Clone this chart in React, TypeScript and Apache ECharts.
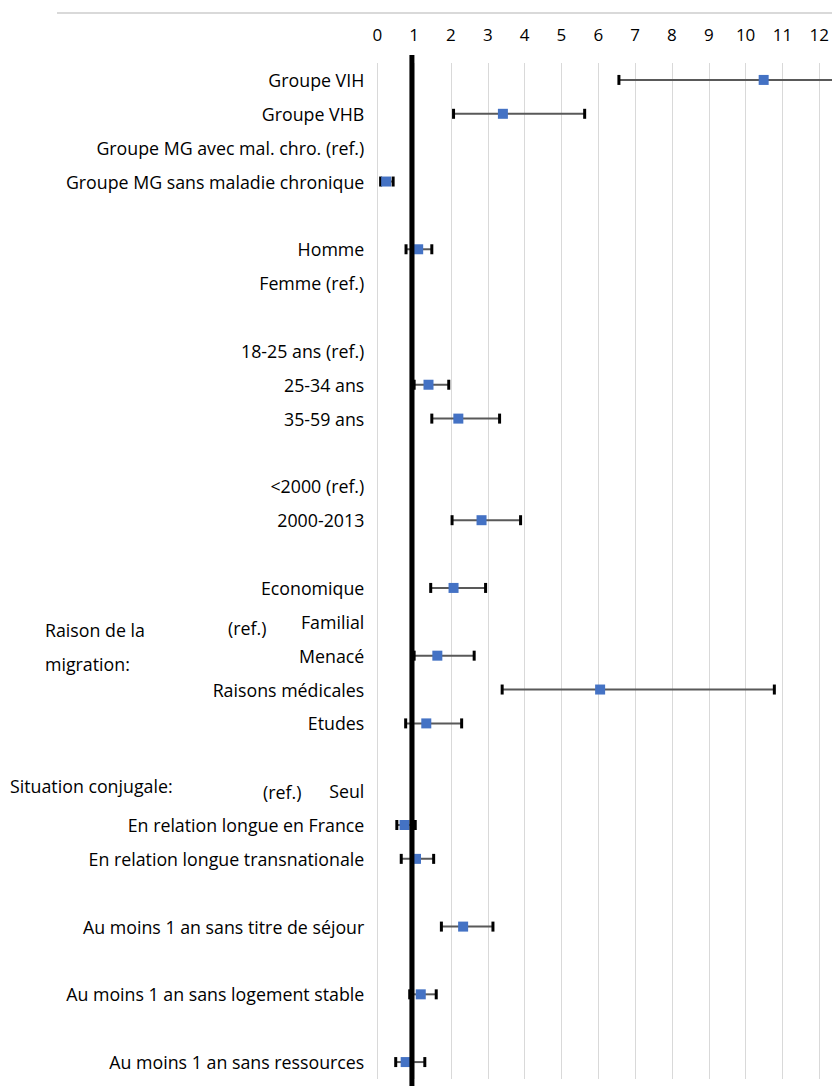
import React, { useEffect, useRef } from "react";
import * as echarts from "echarts";

const categories = [
  "Groupe VIH",
  "Groupe VHB",
  "Groupe MG avec mal. chro. (ref.)",
  "Groupe MG sans maladie chronique",
  "",
  "Homme",
  "Femme (ref.)",
  " ",
  "18-25 ans (ref.)",
  "25-34 ans",
  "35-59 ans",
  "  ",
  "<2000 (ref.)",
  "2000-2013",
  "   ",
  "Economique",
  "Familial",
  "Menacé",
  "Raisons médicales",
  "Etudes",
  "    ",
  "Seul",
  "En relation longue en France",
  "En relation longue transnationale",
  "     ",
  "Au moins 1 an sans titre de séjour",
  "      ",
  "Au moins 1 an sans logement stable",
  "       ",
  "Au moins 1 an sans ressources",
];

// odds ratio point estimates (null = reference / blank row)
const estimates: (number | null)[] = [
  10.49, 3.41, null, 0.24, null, 1.11, null, null, null, 1.39, 2.2, null, null, 2.83, null,
  2.07, null, 1.63, 6.05, 1.33, null, null, 0.74, 1.05, null, 2.33, null, 1.18, null, 0.77,
];
const lowerCI: (number | null)[] = [
  6.56, 2.07, null, 0.09, null, 0.78, null, null, null, 1.0, 1.48, null, null, 2.03, null,
  1.45, null, 1.0, 3.39, 0.77, null, null, 0.53, 0.65, null, 1.74, null, 0.88, null, 0.5,
];
const upperCI: (number | null)[] = [
  16.8, 5.63, null, 0.43, null, 1.48, null, null, null, 1.94, 3.32, null, null, 3.89, null,
  2.94, null, 2.63, 10.78, 2.29, null, null, 1.03, 1.53, null, 3.14, null, 1.6, null, 1.29,
];

const xTicks = { min: 0, max: 12, interval: 1 };
const refLineValue = 0.94;

const FONT = "'Open Sans', sans-serif";
const FS = 17.8;

export default function App() {
  const ref = useRef<HTMLDivElement>(null);
  useEffect(() => {
    if (!ref.current) return;
    const chart = echarts.init(ref.current, undefined, { renderer: "svg" });

    const errData: any[] = [];
    const ptData: any[] = [];
    categories.forEach((c, i) => {
      if (estimates[i] != null) {
        errData.push([lowerCI[i], upperCI[i], i]);
        ptData.push([estimates[i], i]);
      }
    });

    const txt = (text: string, x: number, y: number) => ({
      type: "text",
      x,
      y,
      style: { text, fontSize: FS, fontFamily: FONT, fill: "#000", verticalAlign: "middle", align: "left" },
    });

    chart.setOption({
      animation: false,
      grid: { left: 377.3, right: 4.7, top: 63, height: 1016, containLabel: false },
      xAxis: {
        type: "value",
        position: "top",
        min: xTicks.min,
        max: xTicks.max,
        interval: xTicks.interval,
        axisLine: { show: false },
        axisTick: { show: false },
        axisLabel: { color: "#000", fontSize: 17, fontFamily: FONT, margin: 20 },
        splitLine: { show: true, lineStyle: { color: "#d9d9d9", width: 1 } },
      },
      yAxis: {
        type: "category",
        inverse: true,
        data: categories,
        axisLine: { show: false },
        axisTick: { show: false },
        splitLine: { show: false },
        axisLabel: {
          color: "#000",
          fontSize: FS,
          fontFamily: FONT,
          margin: 13,
          interval: 0,
        },
      },
      graphic: [
        {
          type: "line",
          shape: { x1: 57, y1: 13, x2: 832, y2: 13 },
          style: { stroke: "#d9d9d9", lineWidth: 2 },
        },
        txt("Raison de la", 45, 630),
        txt("migration:", 45, 664),
        txt("(ref.)", 228, 628),
        txt("Situation conjugale:", 10, 786),
        txt("(ref.)", 263, 792),
      ],
      series: [
        {
          type: "custom",
          name: "refline",
          data: [[refLineValue, 0]],
          silent: true,
          z: 5,
          renderItem: (params: any, api: any) => {
            const p = api.coord([api.value(0), 0]);
            const cs = params.coordSys;
            return {
              type: "line",
              shape: { x1: p[0], y1: cs.y - 8, x2: p[0], y2: cs.y + cs.height + 8 },
              style: { stroke: "#000", lineWidth: 5 },
            };
          },
        },
        {
          type: "custom",
          name: "ci",
          data: errData,
          z: 3,
          renderItem: (params: any, api: any) => {
            const lo = api.coord([api.value(0), api.value(2)]);
            const hi = api.coord([api.value(1), api.value(2)]);
            const h = 5;
            return {
              type: "group",
              children: [
                {
                  type: "line",
                  shape: { x1: lo[0], y1: lo[1], x2: hi[0], y2: hi[1] },
                  style: { stroke: "#595959", lineWidth: 2 },
                },
                {
                  type: "line",
                  shape: { x1: lo[0], y1: lo[1] - h, x2: lo[0], y2: lo[1] + h },
                  style: { stroke: "#000", lineWidth: 3 },
                },
                {
                  type: "line",
                  shape: { x1: hi[0], y1: hi[1] - h, x2: hi[0], y2: hi[1] + h },
                  style: { stroke: "#000", lineWidth: 3 },
                },
              ],
            };
          },
        },
        {
          type: "scatter",
          name: "OR",
          data: ptData,
          symbol: "rect",
          symbolSize: 10,
          z: 4,
          itemStyle: { color: "#4472C4", opacity: 1 },
        },
      ],
    });
    return () => chart.dispose();
  }, []);
  return (
    <div
      ref={ref}
      style={{ position: "fixed", left: 0, top: 0, width: 832, height: 1086, background: "#fff" }}
    />
  );
}
